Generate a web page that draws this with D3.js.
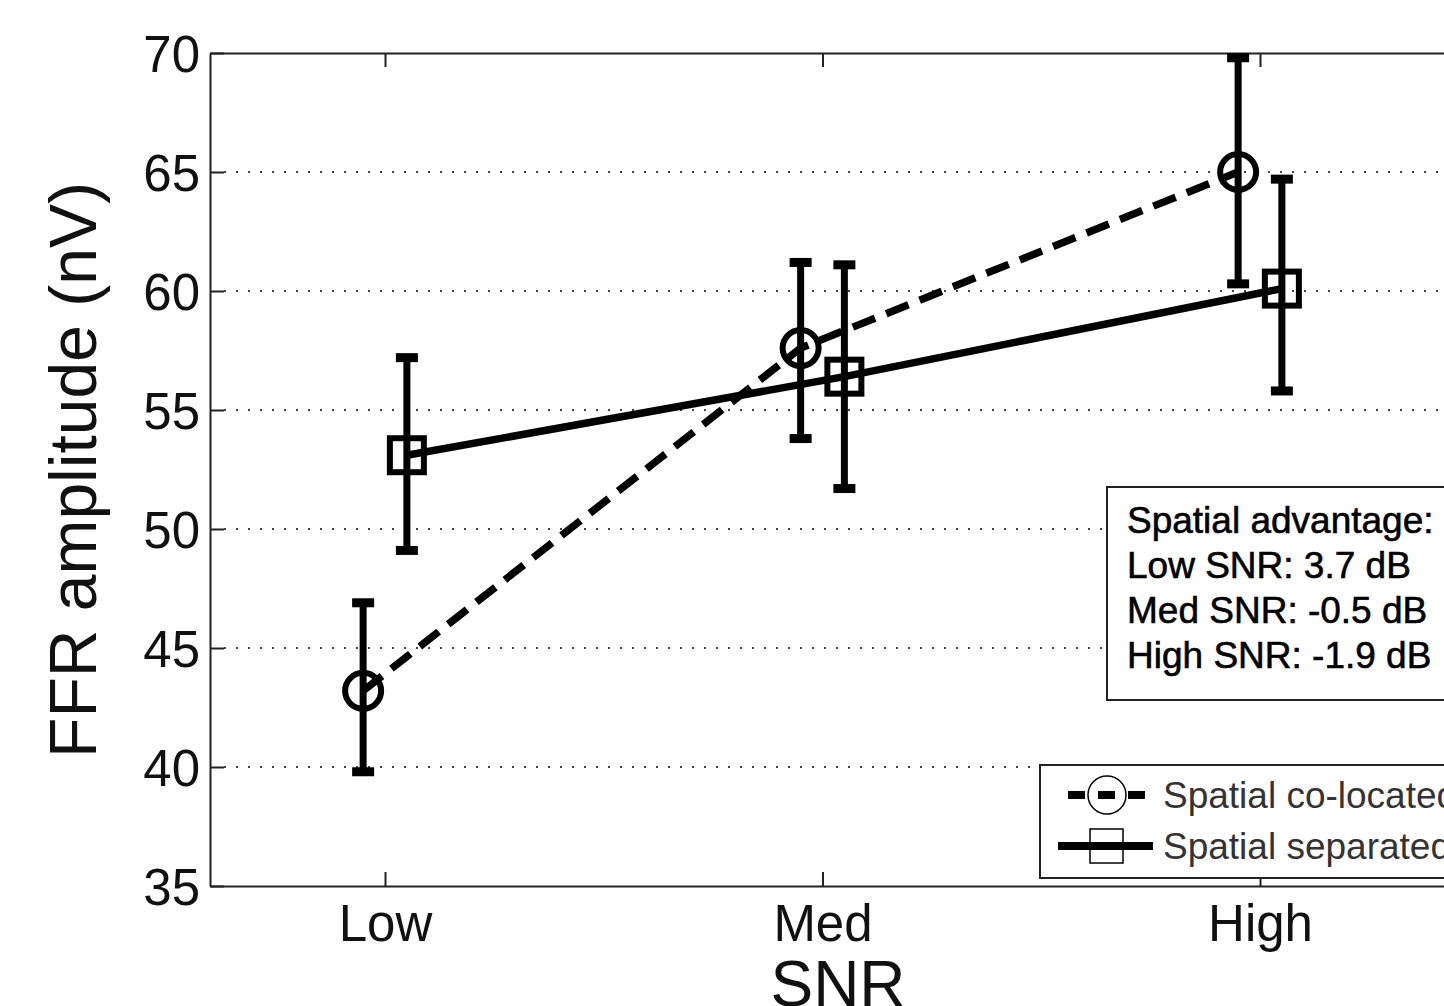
<html>
  <head>
    <meta charset="UTF-8">
    <title>FFR amplitude by SNR</title>
    <script src="https://cdnjs.cloudflare.com/ajax/libs/d3/7.8.5/d3.min.js"></script>
    <style>
      body { margin: 0; background: #fff; }
      svg { font-family: 'Liberation Sans', Arial, sans-serif; display: block; }
      .axis path, .axis line { stroke: #222; stroke-width: 2; }
      .axis text { fill: #111; font-size: 51px; }
      .grid line { stroke: #444; stroke-width: 2; stroke-dasharray: 2, 10; }
    </style>
  </head>
  <body>
    <svg id="chart"></svg>
    <script>
      // values
      const categories = ['Low', 'Med', 'High']
      const colocated = [43.2, 57.6, 65.0]
      const colocatedLo = [39.8, 53.8, 60.3]
      const colocatedHi = [46.9, 61.2, 69.8]
      const separated = [53.1, 56.4, 60.1]
      const separatedLo = [49.1, 51.7, 55.8]
      const separatedHi = [57.2, 61.1, 64.7]
      const yTicks = [35, 40, 45, 50, 55, 60, 65, 70]
      const gridTicks = [40, 45, 50, 55, 60, 65]
      const advantage = ['Spatial advantage:', 'Low SNR: 3.7 dB', 'Med SNR: -0.5 dB', 'High SNR: -1.9 dB']
      const legendLabels = ['Spatial co-located', 'Spatial separated']

      const width = 1444
      const height = 1006
      const plotLeft = 210, plotTop = 53, plotBottom = 886

      const svg = d3.select('#chart')
        .attr('width', width)
        .attr('height', height)

      const x = d3.scaleLinear().domain([0.6, 3.5]).range([plotLeft, plotLeft + 2.9 * 437.5])
      const y = d3.scaleLinear().domain([35, 70]).range([plotBottom, plotTop])
      const plotRight = x(3.5)
      const offset = 0.05

      // dotted grid
      svg.append('g')
        .attr('class', 'grid')
        .selectAll('line')
        .data(gridTicks)
        .join('line')
        .attr('x1', plotLeft + 14)
        .attr('x2', plotRight)
        .attr('y1', d => y(d))
        .attr('y2', d => y(d))

      // axes, ticks pointing inside
      svg.append('g')
        .attr('class', 'axis')
        .attr('transform', `translate(0, ${plotBottom})`)
        .call(d3.axisBottom(x).tickValues([1, 2, 3]).tickFormat(d => categories[d - 1])
          .tickSizeInner(-14).tickSizeOuter(0).tickPadding(19))

      svg.append('g')
        .attr('class', 'axis')
        .attr('transform', `translate(0, ${plotTop})`)
        .call(d3.axisTop(x).tickValues([1, 2, 3]).tickFormat('')
          .tickSizeInner(-14).tickSizeOuter(0))

      const yAxis = svg.append('g')
        .attr('class', 'axis')
        .attr('transform', `translate(${plotLeft}, 0)`)
        .call(d3.axisLeft(y).tickValues(yTicks)
          .tickSizeInner(-14).tickSizeOuter(0).tickPadding(10))
      yAxis.selectAll('text').attr('dy', '0.36em')

      // axis titles
      svg.append('text')
        .attr('transform', 'translate(96, 470) rotate(-90)')
        .attr('text-anchor', 'middle')
        .style('font-size', '66px')
        .attr('fill', '#111')
        .text('FFR amplitude (nV)')

      svg.append('text')
        .attr('x', 838)
        .attr('y', 1006)
        .attr('text-anchor', 'middle')
        .style('font-size', '64px')
        .attr('fill', '#111')
        .text('SNR')

      const series = [
        { vals: colocated, lo: colocatedLo, hi: colocatedHi, shift: -offset, dash: '24,12', marker: 'circle' },
        { vals: separated, lo: separatedLo, hi: separatedHi, shift: offset, dash: null, marker: 'square' }
      ]

      const line = d3.line().x(d => d[0]).y(d => d[1])

      series.forEach(s => {
        const pts = s.vals.map((v, i) => [x(i + 1 + s.shift), y(v)])

        svg.append('path')
          .attr('d', line(pts))
          .attr('fill', 'none')
          .attr('stroke', '#000')
          .attr('stroke-width', 7.5)
          .attr('stroke-dasharray', s.dash)

        const eb = svg.append('g')
        s.vals.forEach((v, i) => {
          const cx = x(i + 1 + s.shift)
          eb.append('line')
            .attr('x1', cx).attr('x2', cx)
            .attr('y1', y(s.lo[i])).attr('y2', y(s.hi[i]))
            .attr('stroke', '#000').attr('stroke-width', 7)
          ;[s.lo[i], s.hi[i]].forEach(c => {
            eb.append('line')
              .attr('x1', cx - 11).attr('x2', cx + 11)
              .attr('y1', y(c)).attr('y2', y(c))
              .attr('stroke', '#000').attr('stroke-width', 9)
          })
        })

        if (s.marker === 'circle') {
          svg.append('g').selectAll('circle')
            .data(pts)
            .join('circle')
            .attr('cx', d => d[0]).attr('cy', d => d[1])
            .attr('r', 18)
            .attr('fill', 'none').attr('stroke', '#000').attr('stroke-width', 6)
        } else {
          svg.append('g').selectAll('rect')
            .data(pts)
            .join('rect')
            .attr('x', d => d[0] - 17).attr('y', d => d[1] - 17)
            .attr('width', 34).attr('height', 34)
            .attr('fill', 'none').attr('stroke', '#000').attr('stroke-width', 6)
        }
      })

      // annotation box
      const note = svg.append('g')
      note.append('rect')
        .attr('x', 1107).attr('y', 487)
        .attr('width', 400).attr('height', 213)
        .attr('fill', '#fff').attr('stroke', '#222').attr('stroke-width', 2)
      note.selectAll('text')
        .data(advantage)
        .join('text')
        .attr('x', 1127)
        .attr('y', (d, i) => 533 + i * 45)
        .style('font-size', '37px')
        .attr('fill', '#000')
        .attr('stroke', '#000')
        .attr('stroke-width', 0.6)
        .text(d => d)

      // legend
      const legend = svg.append('g')
      legend.append('rect')
        .attr('x', 1040).attr('y', 765)
        .attr('width', 460).attr('height', 113)
        .attr('fill', '#fff').attr('stroke', '#222').attr('stroke-width', 2)

      legend.append('line')
        .attr('x1', 1068).attr('x2', 1153).attr('y1', 795).attr('y2', 795)
        .attr('stroke', '#000').attr('stroke-width', 8).attr('stroke-dasharray', '17,13')
      legend.append('circle')
        .attr('cx', 1107).attr('cy', 795).attr('r', 19)
        .attr('fill', 'none').attr('stroke', '#000').attr('stroke-width', 1.5)

      legend.append('line')
        .attr('x1', 1058).attr('x2', 1153).attr('y1', 846).attr('y2', 846)
        .attr('stroke', '#000').attr('stroke-width', 8)
      legend.append('rect')
        .attr('x', 1090).attr('y', 829).attr('width', 33).attr('height', 34)
        .attr('fill', 'none').attr('stroke', '#000').attr('stroke-width', 1.5)

      legend.selectAll('text')
        .data(legendLabels)
        .join('text')
        .attr('x', 1163)
        .attr('y', (d, i) => 808 + i * 51)
        .style('font-size', '37px')
        .attr('fill', '#333')
        .text(d => d)
    </script>
  </body>
</html>
